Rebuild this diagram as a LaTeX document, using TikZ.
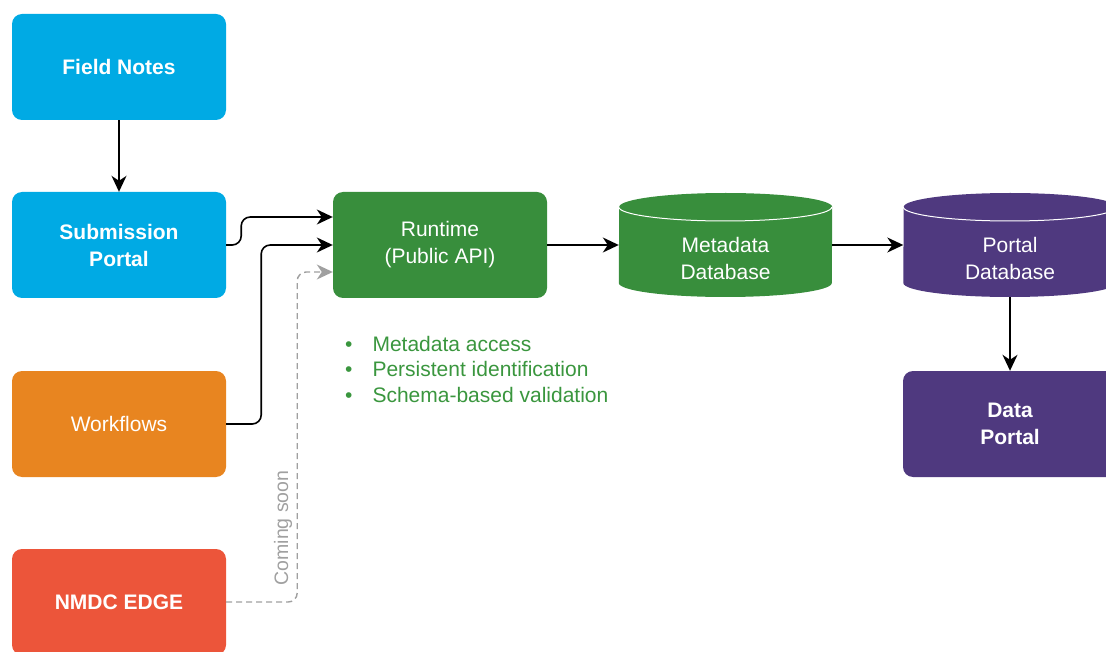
\documentclass[tikz,border=0pt]{standalone}
\usepackage{fontspec}
\setmainfont{Liberation Sans}
\usetikzlibrary{arrows.meta}
\definecolor{cblue}{RGB}{0,170,228}
\definecolor{corange}{RGB}{232,133,32}
\definecolor{cred}{RGB}{236,85,58}
\definecolor{cgreen}{RGB}{56,142,60}
\definecolor{cpurple}{RGB}{79,57,127}
\definecolor{cgtext}{RGB}{58,150,62}
\definecolor{cgray}{RGB}{160,160,160}
\tikzset{
  box/.style={rounded corners=10pt, minimum width=214pt, minimum height=106pt, inner sep=0pt, align=center, text=white, font=\fontsize{21}{27}\selectfont},
  boldbox/.style={box, font=\fontsize{21}{27}\selectfont\bfseries},
  cylnode/.style={minimum width=213pt, minimum height=104pt, inner sep=0pt, align=center, text=white, font=\fontsize{21}{27}\selectfont},
  conn/.style={line width=1.6pt, black, rounded corners=9pt, -{Stealth[length=16pt,width=15pt,inset=5pt]}},
  dconn/.style={line width=1.4pt, cgray, dash pattern=on 6pt off 4pt, rounded corners=9pt, -{Stealth[length=16pt,width=15pt,inset=5pt]}},
}
\begin{document}
\begin{tikzpicture}[x=1pt,y=-1pt]
\useasboundingbox (0,0) rectangle (1106,652);
\clip (0,0) rectangle (1106,652);
% left column
\node[boldbox, fill=cblue] (fn) at (119,67) {Field Notes};
\node[boldbox, fill=cblue] (sub) at (119,245) {Submission\\Portal};
\node[box, fill=corange] (wf) at (119,424) {Workflows};
\node[boldbox, fill=cred] (edge) at (119,602) {NMDC EDGE};
% runtime
\node[box, fill=cgreen] (rt) at (440,245) {Runtime\\(Public API)};
% metadata database cylinder
\node[cylnode] (meta) at (725.5,245) {};
\fill[cgreen] (meta.west |- 0,283) arc[start angle=180,end angle=360,x radius=106.5pt,y radius=14pt] -- (meta.east |- 0,207) arc[start angle=0,end angle=180,x radius=106.5pt,y radius=14pt] -- cycle;
\draw[white, line width=1pt] (meta.west |- 0,207) arc[start angle=180,end angle=360,x radius=106.5pt,y radius=14pt];
\node[align=center, text=white, font=\fontsize{21}{27}\selectfont] (metat) at (725.5,258) {Metadata\\Database};
% portal database cylinder
\node[cylnode] (pdb) at (1010,245) {};
\fill[cpurple] (pdb.west |- 0,283) arc[start angle=180,end angle=360,x radius=106.5pt,y radius=14pt] -- (pdb.east |- 0,207) arc[start angle=0,end angle=180,x radius=106.5pt,y radius=14pt] -- cycle;
\draw[white, line width=1pt] (pdb.west |- 0,207) arc[start angle=180,end angle=360,x radius=106.5pt,y radius=14pt];
\node[align=center, text=white, font=\fontsize{21}{27}\selectfont] (pdbt) at (1010,258) {Portal\\Database};
% data portal
\node[boldbox, fill=cpurple] (dp) at (1010,424) {Data\\Portal};
% bullet list
\node[anchor=north west, align=left, text=cgtext, font=\fontsize{21}{25.5}\selectfont, inner sep=0pt] (list) at (345,336)
  {\textbullet\hspace{20pt}Metadata access\\\textbullet\hspace{20pt}Persistent identification\\\textbullet\hspace{20pt}Schema-based validation};
% coming soon label
\node[rotate=90, text=cgray, font=\fontsize{19.5}{22}\selectfont] (soon) at (283,528) {Coming soon};
% connectors
\draw[conn] (fn.south) -- (sub.north);
\draw[conn] (sub.east) -- ++(15,0) |- ([yshift=28pt]rt.west);
\draw[conn] (wf.east) -- ++(35,0) |- (rt.west);
\draw[dconn] (edge.east) -- ++(71,0) |- ([yshift=-27pt]rt.west);
\draw[conn] (rt.east) -- (meta.west);
\draw[conn] (meta.east) -- (pdb.west);
\draw[conn] (pdb.south) -- (dp.north);
\end{tikzpicture}
\end{document}
